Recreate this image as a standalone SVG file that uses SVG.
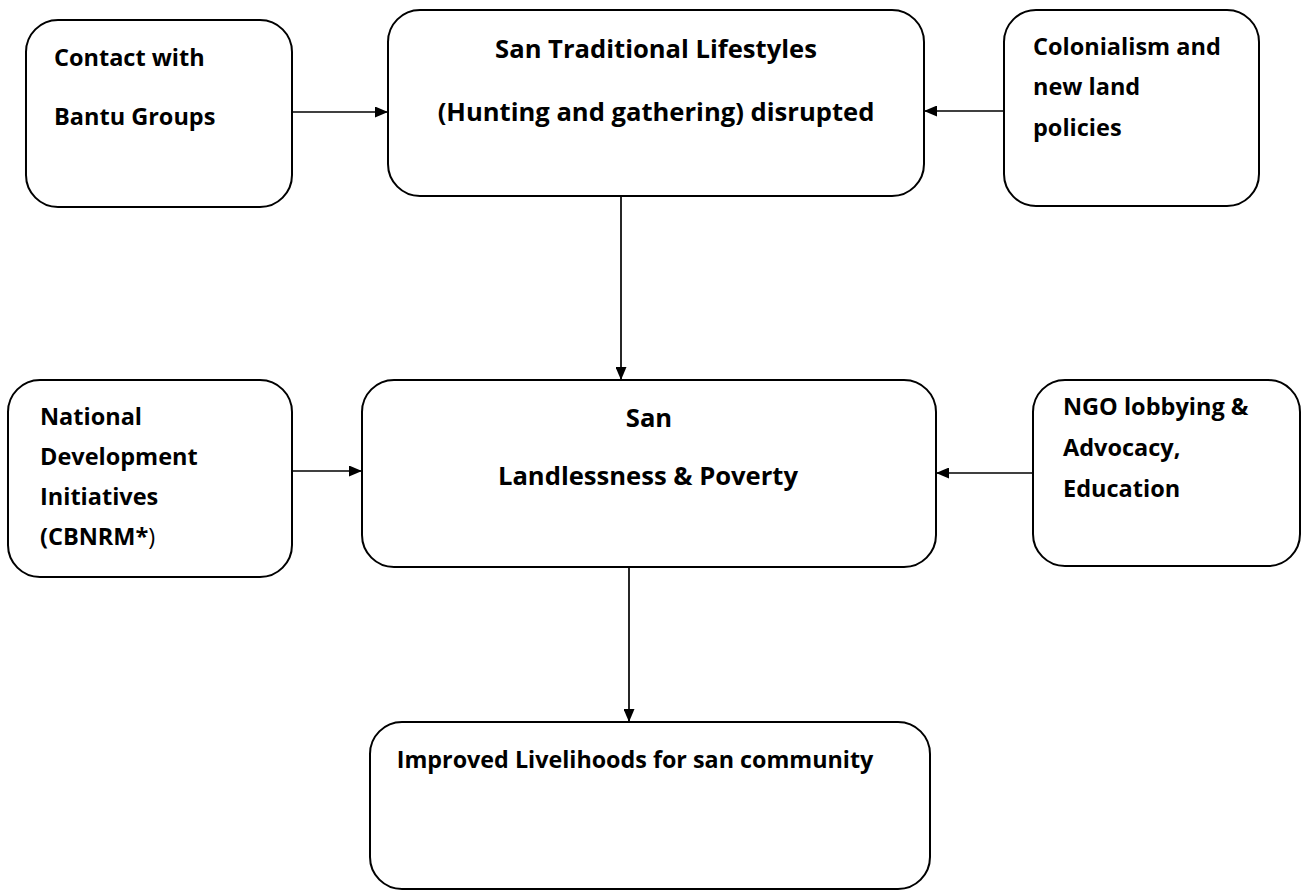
<svg xmlns="http://www.w3.org/2000/svg" width="1301" height="892" viewBox="0 0 1301 892">
<style>
.box{fill:#fff;stroke:#000;stroke-width:2}
.t{font-family:"Open Sans","Liberation Sans",sans-serif;font-weight:bold;font-size:23.5px;fill:#000}
.big{font-size:25.6px}
.tc{text-anchor:middle}
.c{stroke:#000;stroke-width:1.7;fill:none;marker-end:url(#ah)}
</style>
<defs>
<marker id="ah" viewBox="0 0 13 11" refX="13" refY="5.5" markerWidth="13" markerHeight="11" markerUnits="userSpaceOnUse" orient="auto">
<path d="M0,0 L13,5.5 L0,11 Z" fill="#000"/>
</marker>
</defs>
<rect width="1301" height="892" fill="#fff"/>
<g id="connectors">
<line class="c" x1="292" y1="112" x2="388" y2="112"/>
<line class="c" x1="1004" y1="111" x2="924" y2="111"/>
<line class="c" x1="621" y1="196" x2="621" y2="380"/>
<line class="c" x1="292" y1="471" x2="362" y2="471"/>
<line class="c" x1="1033" y1="473" x2="936" y2="473"/>
<line class="c" x1="629" y1="567" x2="629" y2="722"/>
</g>
<g id="contact">
<rect class="box" x="26" y="20" width="266" height="187" rx="32"/>
<text class="t" x="54" y="66">Contact with</text>
<text class="t" x="54" y="125">Bantu Groups</text>
</g>
<g id="san-traditional">
<rect class="box" x="388" y="10" width="536" height="186" rx="32"/>
<text class="t big tc" x="656" y="58">San Traditional Lifestyles</text>
<text class="t big tc" x="656" y="121">(Hunting and gathering) disrupted</text>
</g>
<g id="colonialism">
<rect class="box" x="1004" y="10" width="255" height="196" rx="32"/>
<text class="t" x="1033" y="55">Colonialism and</text>
<text class="t" x="1033" y="95">new land</text>
<text class="t" x="1033" y="136">policies</text>
</g>
<g id="national">
<rect class="box" x="8" y="380" width="284" height="197" rx="32"/>
<text class="t" x="40" y="425">National</text>
<text class="t" x="40" y="465">Development</text>
<text class="t" x="40" y="505">Initiatives</text>
<text class="t" x="40" y="545">(CBNRM*<tspan font-weight="normal">)</tspan></text>
</g>
<g id="san-landlessness">
<rect class="box" x="362" y="380" width="574" height="187" rx="32"/>
<text class="t big tc" x="649" y="427">San</text>
<text class="t big tc" x="648" y="485">Landlessness &amp; Poverty</text>
</g>
<g id="ngo">
<rect class="box" x="1033" y="380" width="267" height="186" rx="32"/>
<text class="t" x="1063" y="415">NGO lobbying &amp;</text>
<text class="t" x="1063" y="456">Advocacy,</text>
<text class="t" x="1063" y="497">Education</text>
</g>
<g id="improved">
<rect class="box" x="370" y="722" width="560" height="167" rx="32"/>
<text class="t tc" x="635" y="768" style="font-size:23.3px">Improved Livelihoods for san community</text>
</g>
</svg>
